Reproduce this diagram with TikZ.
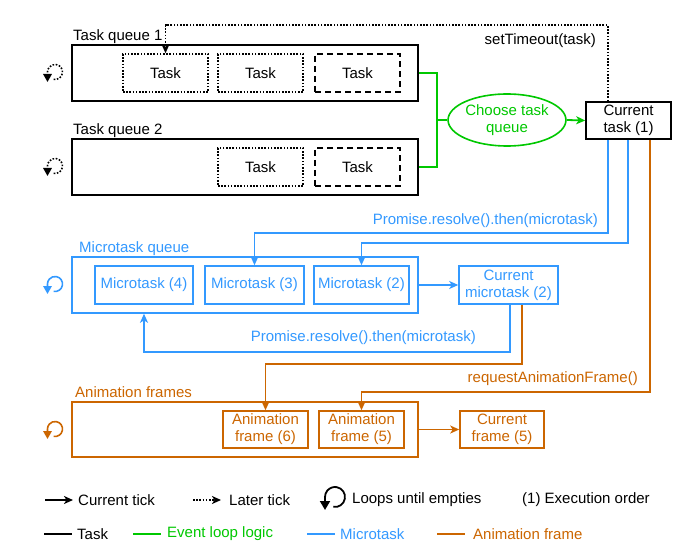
\documentclass[tikz,border=0pt]{standalone}
\usepackage{fontspec}
\setmainfont{Liberation Sans}
\usetikzlibrary{arrows.meta,shapes.geometric}
\definecolor{cgreen}{HTML}{00C800}
\definecolor{cblue}{HTML}{3399FF}
\definecolor{corange}{HTML}{CC6600}
\begin{document}
\begin{tikzpicture}[x=1pt,y=-1pt,
  every node/.style={font=\fontsize{15}{17}\selectfont},
  box/.style={draw,line width=1.6pt,inner sep=0pt,align=center},
  dotbox/.style={box,dash pattern=on 1.6pt off 1.6pt},
  dashbox/.style={box,dash pattern=on 6pt off 4pt},
  conn/.style={line width=1.8pt},
  tip/.style={-{Stealth[length=9pt,width=8pt,inset=2.5pt]}},
  arr/.style={conn,tip},
  lbl/.style={inner sep=0pt},
  loopico/.style={line width=1.6pt,-{Triangle[length=8pt,width=8.5pt]}},
  dotloop/.style={loopico,dash pattern=on 1.6pt off 1.6pt}
]
\useasboundingbox[fill=white] (0,0) rectangle (700,553);

% ---------- Task queues ----------
\node[box,minimum width=346pt,minimum height=56pt] (q1) at (245,73) {};
\node[lbl,anchor=base west] (q1l) at (73,41) {Task queue 1};
\node[dotbox,minimum width=85pt,minimum height=38pt] (t11) at (165.5,73) {Task};
\node[dotbox,minimum width=85pt,minimum height=38pt] (t12) at (260.5,73) {Task};
\node[dashbox,minimum width=85pt,minimum height=38pt] (t13) at (357.5,73) {Task};

\node[box,minimum width=346pt,minimum height=56pt] (q2) at (245,167) {};
\node[lbl,anchor=base west] (q2l) at (73,135) {Task queue 2};
\node[dotbox,minimum width=85pt,minimum height=38pt] (t22) at (260.5,167) {Task};
\node[dashbox,minimum width=85pt,minimum height=38pt] (t23) at (357.5,167) {Task};

\draw[dotloop] (55,72) ++(100:7.5) arc[start angle=100,end angle=-180,radius=7.5] -- ++(0,10);
\draw[dotloop] (55,166) ++(100:7.5) arc[start angle=100,end angle=-180,radius=7.5] -- ++(0,10);

% ---------- Event loop logic ----------
\node[draw=cgreen,line width=1.6pt,ellipse,inner sep=0pt,minimum width=112pt,minimum height=52pt,
      text=cgreen,align=center] (choose) at (507,120) {Choose task\\queue};
\node[box,minimum width=85pt,minimum height=37pt] (cur) at (628.5,120.5) {Current\\task (1)};
\coordinate (gj) at (437,120);
\draw[conn,cgreen] (q1.east) -| (gj) |- (q2.east);
\draw[conn,cgreen] (gj) -- (choose.west);
\draw[arr,cgreen] (choose.east) -- (cur.west);

% setTimeout
\draw[conn,tip,dash pattern=on 1.6pt off 1.6pt] ([xshift=-20.5pt]cur.north) -- ++(0,-76) -| (t11.north);
\node[lbl,anchor=east] (stl) at (596,41) {setTimeout(task)};

% ---------- Microtasks ----------
\node[box,draw=cblue,minimum width=346pt,minimum height=56pt] (mq) at (245,285) {};
\node[lbl,anchor=base west,text=cblue] (mql) at (79,252) {Microtask queue};
\node[box,draw=cblue,text=cblue,minimum width=98pt,minimum height=38pt] (m4) at (144,285) {Microtask (4)};
\node[box,draw=cblue,text=cblue,minimum width=99pt,minimum height=38pt] (m3) at (254.5,285) {Microtask (3)};
\node[box,draw=cblue,text=cblue,minimum width=95pt,minimum height=38pt] (m2) at (361.5,285) {Microtask (2)};
\node[box,draw=cblue,text=cblue,minimum width=99pt,minimum height=38pt] (cm) at (508.5,285) {Current\\microtask (2)};
\draw[loopico,cblue] (55,284) ++(100:7.5) arc[start angle=100,end angle=-180,radius=7.5] -- ++(0,10);

\draw[arr,cblue] ([xshift=-20.5pt]cur.south) -- ++(0,93) -| (m3.north);
\draw[arr,cblue] ([xshift=-0.5pt]cur.south) -- ++(0,103) -| (m2.north);
\node[lbl,anchor=east,text=cblue] (pr1) at (598,221) {Promise.resolve().then(microtask)};
\draw[arr,cblue] (mq.east) -- (cm.west);
\draw[arr,cblue] ([xshift=1.5pt]cm.south) -- ++(0,47) -| (m4.south |- mq.south);
\node[lbl,anchor=east,text=cblue] (pr2) at (476,338) {Promise.resolve().then(microtask)};

% ---------- Animation frames ----------
\node[box,draw=corange,minimum width=346pt,minimum height=55pt] (af) at (245,429.5) {};
\node[lbl,anchor=base west,text=corange] (afl) at (75,397) {Animation frames};
\node[box,draw=corange,text=corange,minimum width=85pt,minimum height=37pt] (a6) at (265.5,429.5) {Animation\\frame (6)};
\node[box,draw=corange,text=corange,minimum width=85pt,minimum height=37pt] (a5) at (361.5,429.5) {Animation\\frame (5)};
\node[box,draw=corange,text=corange,minimum width=84pt,minimum height=37pt] (cf) at (502,429.5) {Current\\frame (5)};
\draw[loopico,corange] (55,429) ++(100:7.5) arc[start angle=100,end angle=-180,radius=7.5] -- ++(0,10);

\draw[arr,corange] ([xshift=13.5pt]cm.south) -- ++(0,59) -| (a6.north);
\draw[arr,corange] ([xshift=21.5pt]cur.south) -- ++(0,252) -| (a5.north);
\node[lbl,anchor=east,text=corange] (raf) at (638,379) {requestAnimationFrame()};
\draw[arr,corange] (af.east) -- (cf.west);

% ---------- Legend ----------
\coordinate (la1) at (45,500); \coordinate (la2) at (73,500);
\draw[arr] (la1) -- (la2);
\node[lbl,anchor=west] (lt1) at (78,500) {Current tick};
\coordinate (lb1) at (193,500); \coordinate (lb2) at (221,500);
\draw[arr,dash pattern=on 1.6pt off 1.6pt] (lb1) -- (lb2);
\node[lbl,anchor=west] (lt2) at (229,500) {Later tick};
\draw[line width=1.8pt,-{Triangle[length=9pt,width=10pt]}] (335,497) ++(100:10) arc[start angle=100,end angle=-180,radius=10] -- ++(0,13);
\node[lbl,anchor=west] (lt3) at (352,500) {Loops until empties};
\node[lbl,anchor=west] (lt4) at (522,500) {(1) Execution order};

\coordinate (lc1) at (44,534); \coordinate (lc2) at (72,534);
\draw[conn] (lc1) -- (lc2);
\node[lbl,anchor=west] (lt5) at (77,534) {Task};
\coordinate (ld1) at (133,534); \coordinate (ld2) at (161,534);
\draw[conn,cgreen] (ld1) -- (ld2);
\node[lbl,anchor=west,text=cgreen] (lt6) at (167,534) {Event loop logic};
\coordinate (le1) at (307,534); \coordinate (le2) at (335,534);
\draw[conn,cblue] (le1) -- (le2);
\node[lbl,anchor=west,text=cblue] (lt7) at (340,534) {Microtask};
\coordinate (lf1) at (437,534); \coordinate (lf2) at (465,534);
\draw[conn,corange] (lf1) -- (lf2);
\node[lbl,anchor=west,text=corange] (lt8) at (473,534) {Animation frame};
\end{tikzpicture}
\end{document}
